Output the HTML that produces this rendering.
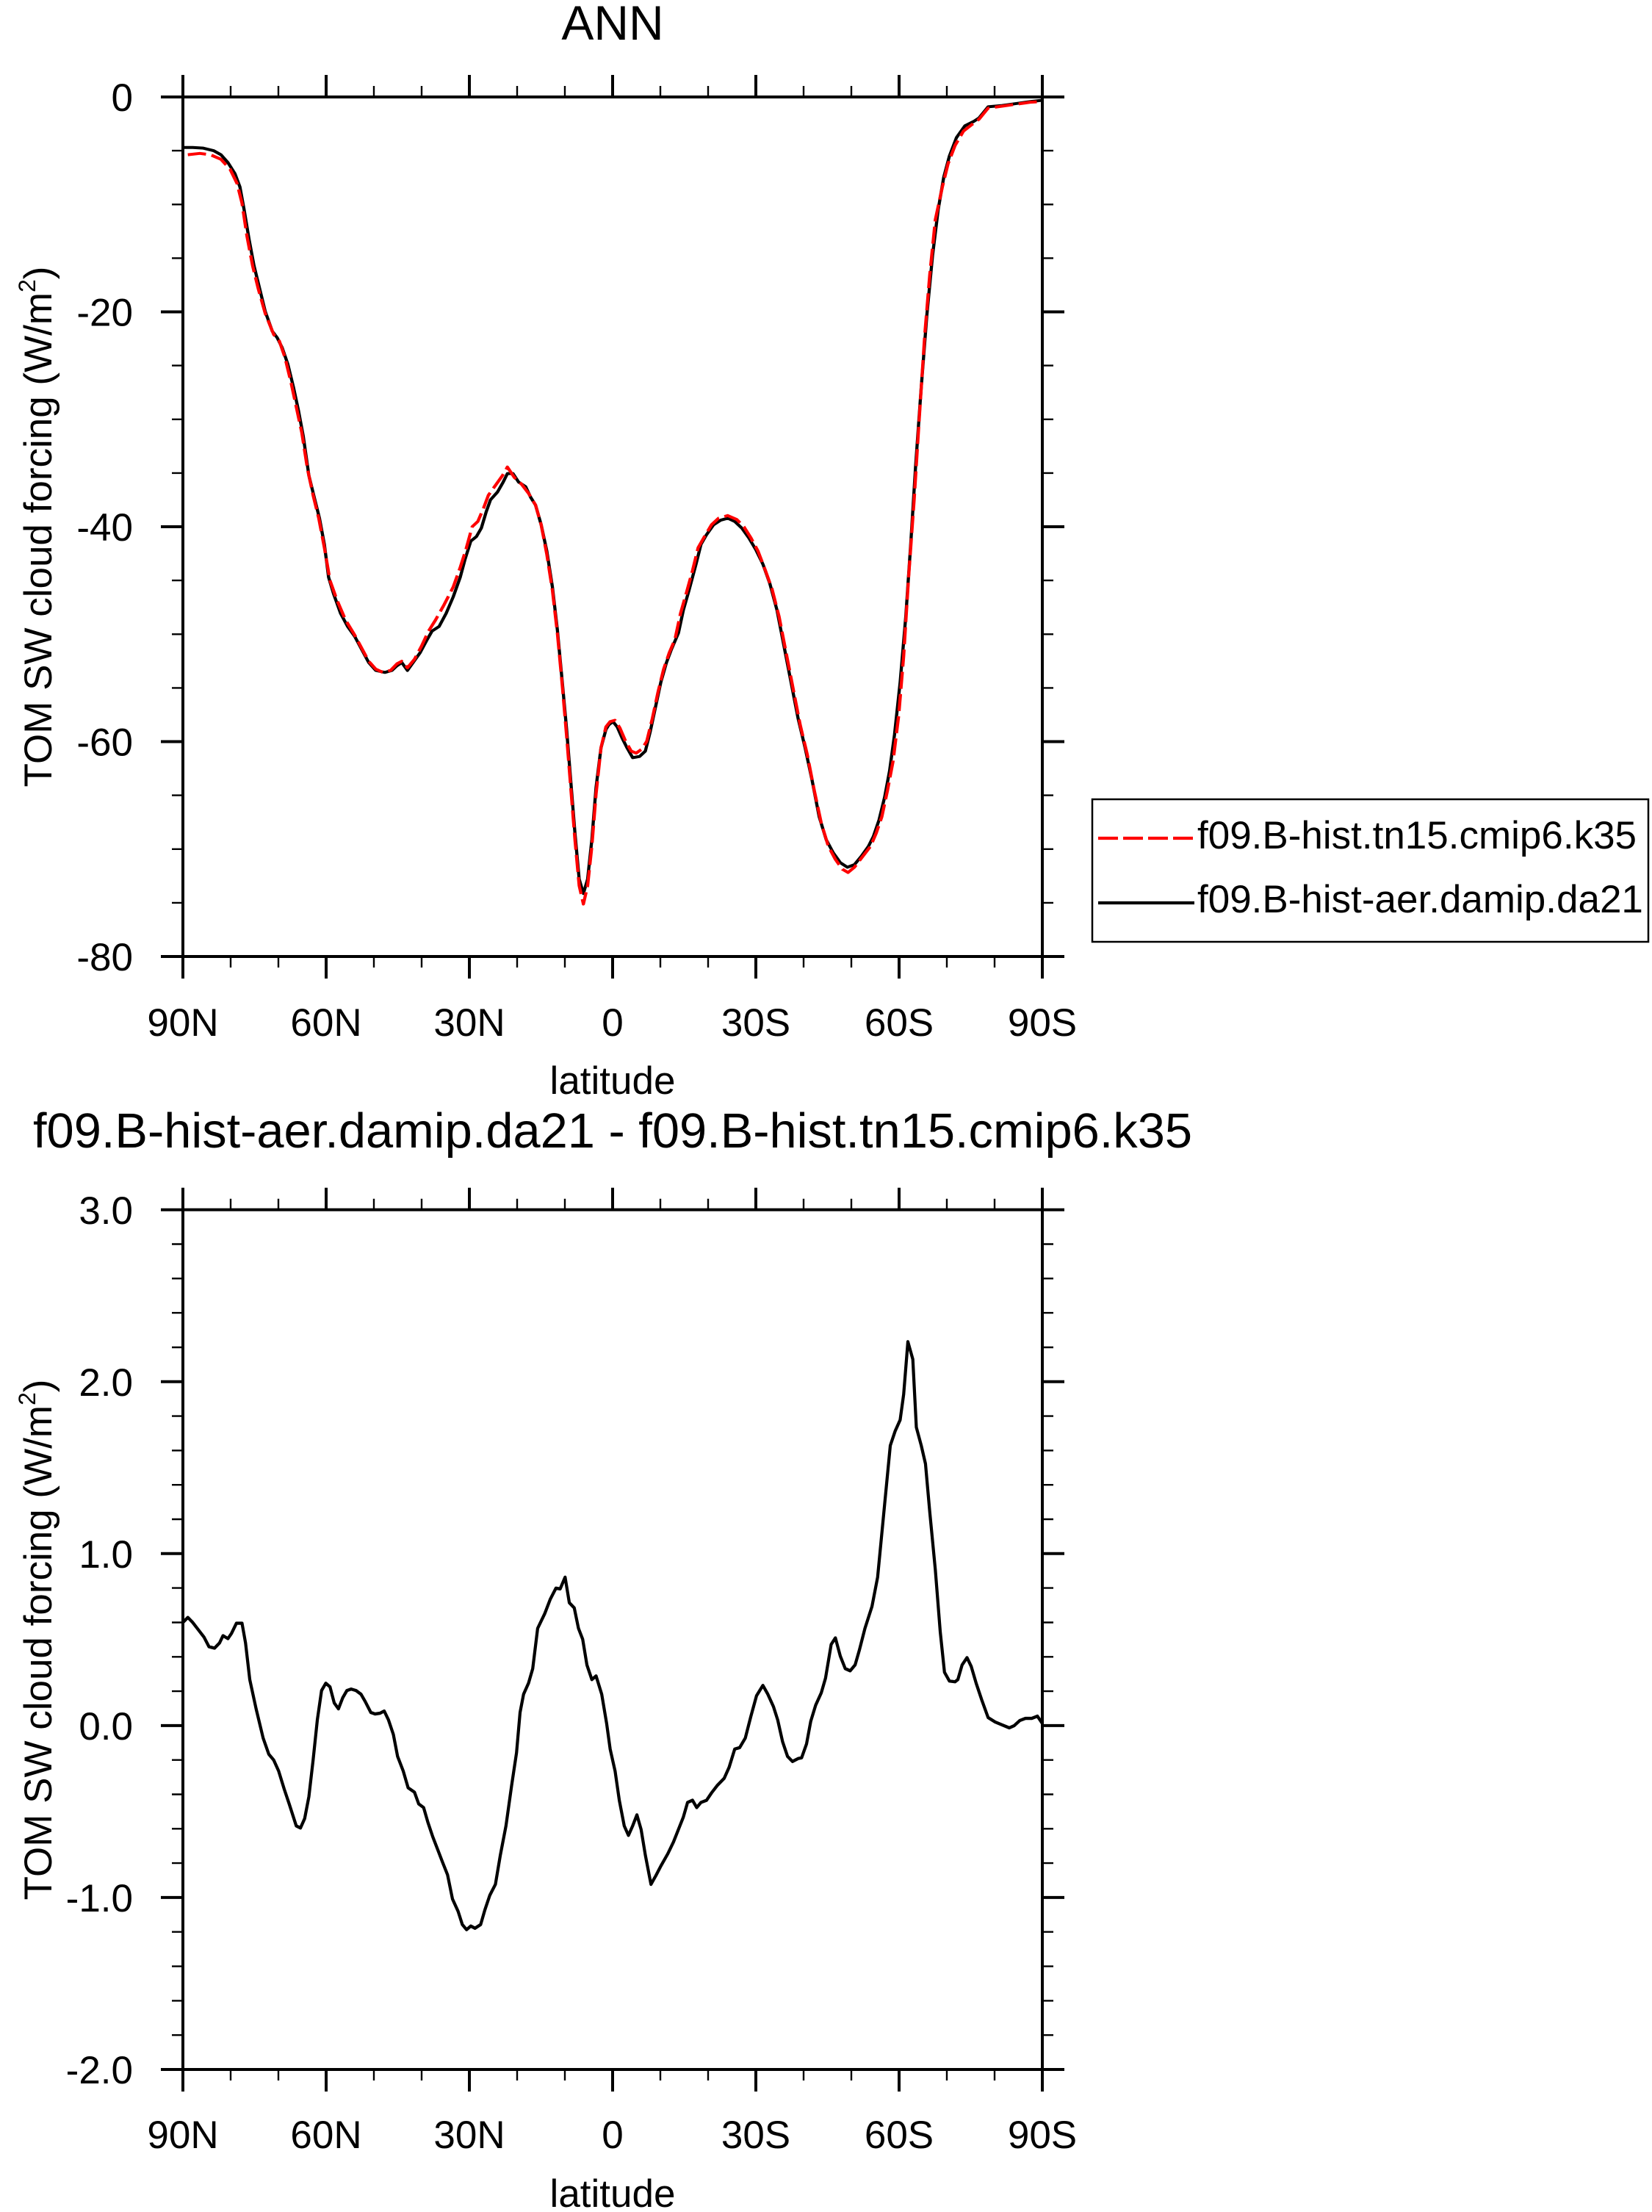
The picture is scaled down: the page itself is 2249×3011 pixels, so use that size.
<!DOCTYPE html>
<html>
<head>
<meta charset="utf-8">
<style>
html,body{margin:0;padding:0;background:#fff;}
svg{display:block;}
text{font-family:"Liberation Sans", Arial, sans-serif;fill:#000;}
</style>
</head>
<body>
<svg width="2249" height="3011" viewBox="0 0 2249 3011" xmlns="http://www.w3.org/2000/svg">
<rect x="0" y="0" width="2249" height="3011" fill="#fff"/>

<!-- ================= PLOT 1 ================= -->
<text x="834" y="54" font-size="66" text-anchor="middle">ANN</text>

<g transform="matrix(0.958231 0 0 0.89313 -1.098 -0.183)" fill="none" stroke-linejoin="round">
<polyline stroke="#000" stroke-width="4.5" points="261,225 275,225 290,226 305,230 315,236 325,248 335,265 342,285 348,320 355,365 362,405 370,440 378,475 388,505 395,515 402,530 410,555 418,590 425,625 432,665 440,725 448,760 455,790 462,830 468,880 475,905 485,935 495,955 505,970 515,990 525,1010 535,1022 548,1025 558,1022 565,1015 572,1010 580,1022 588,1010 598,995 608,975 615,962 625,955 635,935 645,910 655,880 662,852 670,825 678,818 685,805 692,780 698,762 708,750 716,735 722,722 730,722 738,735 748,742 755,758 762,770 770,800 778,840 786,895 793,960 800,1040 806,1110 812,1190 818,1270 824,1340 830,1362 836,1340 842,1280 848,1200 855,1140 862,1112 866,1105 872,1100 878,1108 885,1125 892,1140 900,1155 910,1153 918,1145 925,1115 932,1080 940,1040 948,1010 955,990 965,965 972,930 980,900 990,860 997,830 1005,815 1015,800 1025,793 1035,790 1045,795 1055,805 1065,820 1075,838 1085,860 1095,890 1105,930 1115,985 1125,1040 1135,1095 1145,1140 1155,1190 1165,1245 1175,1280 1185,1300 1195,1315 1205,1322 1215,1318 1225,1305 1235,1290 1242,1275 1250,1250 1258,1215 1265,1175 1272,1120 1280,1040 1288,940 1295,830 1302,710 1310,590 1318,480 1326,390 1334,320 1342,270 1350,238 1360,210 1372,192 1385,185 1392,180 1405,163 1425,161 1445,158 1465,155 1482,153"/>
<polyline stroke="#ff0000" stroke-width="4.5" stroke-dasharray="26 8" points="268,236 285,234 300,236 315,243 328,258 338,280 345,310 352,360 360,405 368,440 378,478 390,510 398,520 406,545 415,585 422,620 430,660 438,715 446,755 454,790 462,835 470,885 480,915 492,945 505,968 515,988 525,1008 535,1020 545,1025 556,1022 565,1012 572,1008 580,1018 590,1005 600,985 610,962 620,945 632,922 645,895 655,865 663,838 672,803 680,795 688,775 695,755 705,740 715,725 722,712 732,728 742,738 752,752 762,770 770,800 778,845 786,900 793,965 800,1045 806,1120 812,1200 818,1280 824,1350 830,1378 836,1350 842,1290 848,1210 855,1140 862,1108 868,1100 875,1098 882,1110 890,1130 898,1145 905,1148 913,1142 920,1130 928,1095 936,1055 944,1020 952,995 960,975 968,935 976,905 985,870 993,835 1002,818 1012,800 1022,790 1035,786 1048,792 1058,803 1068,820 1078,840 1088,868 1098,898 1108,940 1118,995 1128,1050 1138,1105 1148,1150 1158,1205 1168,1255 1178,1290 1188,1310 1198,1325 1206,1330 1215,1322 1225,1308 1238,1290 1246,1270 1254,1245 1262,1205 1270,1160 1278,1090 1285,1000 1292,880 1300,760 1307,640 1315,510 1322,420 1330,335 1340,285 1348,250 1358,222 1370,200 1382,190 1392,182 1405,165 1425,162 1445,159 1465,156 1482,155"/>
</g>

<rect x="249" y="132" width="1170" height="1170" fill="none" stroke="#000" stroke-width="4"/>
<path stroke="#000" stroke-width="4" fill="none" d="
M249,1302V1332 M444,1302V1332 M639,1302V1332 M834,1302V1332 M1029,1302V1332 M1224,1302V1332 M1419,1302V1332
M249,132V102 M444,132V102 M639,132V102 M834,132V102 M1029,132V102 M1224,132V102 M1419,132V102
M249,132H219 M249,424.5H219 M249,717H219 M249,1009.5H219 M249,1302H219
M1419,132H1449 M1419,424.5H1449 M1419,717H1449 M1419,1009.5H1449 M1419,1302H1449"/>
<path stroke="#000" stroke-width="2.4" fill="none" d="
M314,1302V1317 M379,1302V1317 M509,1302V1317 M574,1302V1317 M704,1302V1317 M769,1302V1317 M899,1302V1317 M964,1302V1317 M1094,1302V1317 M1159,1302V1317 M1289,1302V1317 M1354,1302V1317
M314,132V117 M379,132V117 M509,132V117 M574,132V117 M704,132V117 M769,132V117 M899,132V117 M964,132V117 M1094,132V117 M1159,132V117 M1289,132V117 M1354,132V117
M249,205.1H234 M249,278.3H234 M249,351.4H234 M249,497.6H234 M249,570.8H234 M249,643.9H234 M249,790.1H234 M249,863.3H234 M249,936.4H234 M249,1082.6H234 M249,1155.8H234 M249,1228.9H234
M1419,205.1H1434 M1419,278.3H1434 M1419,351.4H1434 M1419,497.6H1434 M1419,570.8H1434 M1419,643.9H1434 M1419,790.1H1434 M1419,863.3H1434 M1419,936.4H1434 M1419,1082.6H1434 M1419,1155.8H1434 M1419,1228.9H1434"/>

<g font-size="53" text-anchor="end">
<text x="181" y="151">0</text>
<text x="181" y="443.5">-20</text>
<text x="181" y="736">-40</text>
<text x="181" y="1028.5">-60</text>
<text x="181" y="1321">-80</text>
</g>
<g font-size="53" text-anchor="middle">
<text x="249" y="1410">90N</text>
<text x="444" y="1410">60N</text>
<text x="639" y="1410">30N</text>
<text x="834" y="1410">0</text>
<text x="1029" y="1410">30S</text>
<text x="1224" y="1410">60S</text>
<text x="1419" y="1410">90S</text>
<text x="834" y="1489">latitude</text>
</g>
<text font-size="53" text-anchor="middle" transform="translate(70,717) rotate(-90)">TOM SW cloud forcing (W/m<tspan font-size="32" dy="-22">2</tspan><tspan font-size="53" dy="22">)</tspan></text>

<!-- legend -->
<rect x="1487" y="1088" width="757" height="194" fill="#fff" stroke="#000" stroke-width="2.5"/>
<line x1="1495" y1="1141" x2="1626" y2="1141" stroke="#ff0000" stroke-width="4.2" stroke-dasharray="27 7"/>
<line x1="1495" y1="1229" x2="1626" y2="1229" stroke="#000" stroke-width="4.2"/>
<text x="1630" y="1155" font-size="53">f09.B-hist.tn15.cmip6.k35</text>
<text x="1630" y="1242" font-size="53">f09.B-hist-aer.damip.da21</text>

<!-- ================= PLOT 2 ================= -->
<text x="834" y="1562" font-size="66.5" text-anchor="middle" textLength="1578" lengthAdjust="spacingAndGlyphs">f09.B-hist-aer.damip.da21 - f09.B-hist.tn15.cmip6.k35</text>

<g transform="matrix(0.958231 0 0 0.99554 -1.098 1450)" fill="none" stroke-linejoin="round">
<polyline stroke="#000" stroke-width="4.4" points="261,762 268,755 275,762 283,772 291,782 298,795 306,797 313,790 318,780 325,784 330,777 337,763 345,763 350,790 356,840 365,880 375,920 383,942 390,950 397,965 405,990 412,1010 422,1040 428,1043 434,1030 440,1000 446,950 452,895 458,855 464,845 470,850 476,872 482,880 488,865 494,855 500,853 507,855 514,860 520,870 528,885 534,887 541,886 547,883 553,895 560,915 566,945 574,965 581,988 590,994 596,1010 603,1015 609,1035 616,1055 624,1075 630,1090 637,1107 644,1140 652,1157 658,1175 664,1182 670,1177 676,1180 684,1175 690,1155 697,1135 705,1120 712,1080 720,1040 728,985 735,940 740,885 745,860 752,845 758,825 765,770 775,750 783,730 791,715 797,716 804,700 810,735 817,742 823,770 829,785 835,820 842,840 848,835 856,860 863,900 868,935 875,965 881,1005 888,1040 894,1053 900,1040 906,1025 912,1045 918,1080 926,1120 933,1108 940,1095 950,1078 958,1062 965,1045 972,1028 978,1008 985,1005 991,1015 997,1008 1005,1005 1012,995 1020,985 1030,975 1037,960 1045,935 1052,933 1060,920 1068,890 1076,862 1085,848 1092,860 1100,877 1106,895 1113,925 1120,945 1127,952 1135,948 1140,947 1147,928 1153,897 1160,875 1168,858 1174,838 1182,792 1188,783 1195,808 1202,825 1209,828 1216,820 1222,800 1230,770 1240,740 1248,700 1258,600 1266,520 1273,500 1280,485 1285,450 1291,378 1298,402 1303,495 1310,520 1316,545 1322,610 1330,690 1337,775 1343,830 1350,842 1358,843 1362,840 1368,820 1375,810 1381,822 1388,845 1396,868 1405,892 1415,898 1425,902 1435,906 1442,903 1450,896 1458,893 1467,893 1475,890 1482,900"/>
</g>

<rect x="249" y="1646.7" width="1170" height="1170.3" fill="none" stroke="#000" stroke-width="4"/>
<path stroke="#000" stroke-width="4" fill="none" d="
M249,2817V2847 M444,2817V2847 M639,2817V2847 M834,2817V2847 M1029,2817V2847 M1224,2817V2847 M1419,2817V2847
M249,1646.7V1616.7 M444,1646.7V1616.7 M639,1646.7V1616.7 M834,1646.7V1616.7 M1029,1646.7V1616.7 M1224,1646.7V1616.7 M1419,1646.7V1616.7
M249,1646.7H219 M249,1880.8H219 M249,2114.8H219 M249,2348.9H219 M249,2582.9H219 M249,2817H219
M1419,1646.7H1449 M1419,1880.8H1449 M1419,2114.8H1449 M1419,2348.9H1449 M1419,2582.9H1449 M1419,2817H1449"/>
<path stroke="#000" stroke-width="2.4" fill="none" d="
M314,2817V2832 M379,2817V2832 M509,2817V2832 M574,2817V2832 M704,2817V2832 M769,2817V2832 M899,2817V2832 M964,2817V2832 M1094,2817V2832 M1159,2817V2832 M1289,2817V2832 M1354,2817V2832
M314,1646.7V1631.7 M379,1646.7V1631.7 M509,1646.7V1631.7 M574,1646.7V1631.7 M704,1646.7V1631.7 M769,1646.7V1631.7 M899,1646.7V1631.7 M964,1646.7V1631.7 M1094,1646.7V1631.7 M1159,1646.7V1631.7 M1289,1646.7V1631.7 M1354,1646.7V1631.7
M249,1693.5H234 M249,1740.3H234 M249,1787.1H234 M249,1834H234 M249,1927.6H234 M249,1974.4H234 M249,2021.2H234 M249,2068H234 M249,2161.6H234 M249,2208.5H234 M249,2255.3H234 M249,2302.1H234 M249,2395.7H234 M249,2442.5H234 M249,2489.3H234 M249,2536.1H234 M249,2629.7H234 M249,2676.6H234 M249,2723.4H234 M249,2770.2H234
M1419,1693.5H1434 M1419,1740.3H1434 M1419,1787.1H1434 M1419,1834H1434 M1419,1927.6H1434 M1419,1974.4H1434 M1419,2021.2H1434 M1419,2068H1434 M1419,2161.6H1434 M1419,2208.5H1434 M1419,2255.3H1434 M1419,2302.1H1434 M1419,2395.7H1434 M1419,2442.5H1434 M1419,2489.3H1434 M1419,2536.1H1434 M1419,2629.7H1434 M1419,2676.6H1434 M1419,2723.4H1434 M1419,2770.2H1434"/>

<g font-size="53" text-anchor="end">
<text x="181" y="1666">3.0</text>
<text x="181" y="1900">2.0</text>
<text x="181" y="2134">1.0</text>
<text x="181" y="2368">0.0</text>
<text x="181" y="2602">-1.0</text>
<text x="181" y="2836">-2.0</text>
</g>
<g font-size="53" text-anchor="middle">
<text x="249" y="2924">90N</text>
<text x="444" y="2924">60N</text>
<text x="639" y="2924">30N</text>
<text x="834" y="2924">0</text>
<text x="1029" y="2924">30S</text>
<text x="1224" y="2924">60S</text>
<text x="1419" y="2924">90S</text>
<text x="834" y="3004">latitude</text>
</g>
<text font-size="53" text-anchor="middle" transform="translate(70,2232) rotate(-90)">TOM SW cloud forcing (W/m<tspan font-size="32" dy="-22">2</tspan><tspan font-size="53" dy="22">)</tspan></text>
</svg>
</body>
</html>
